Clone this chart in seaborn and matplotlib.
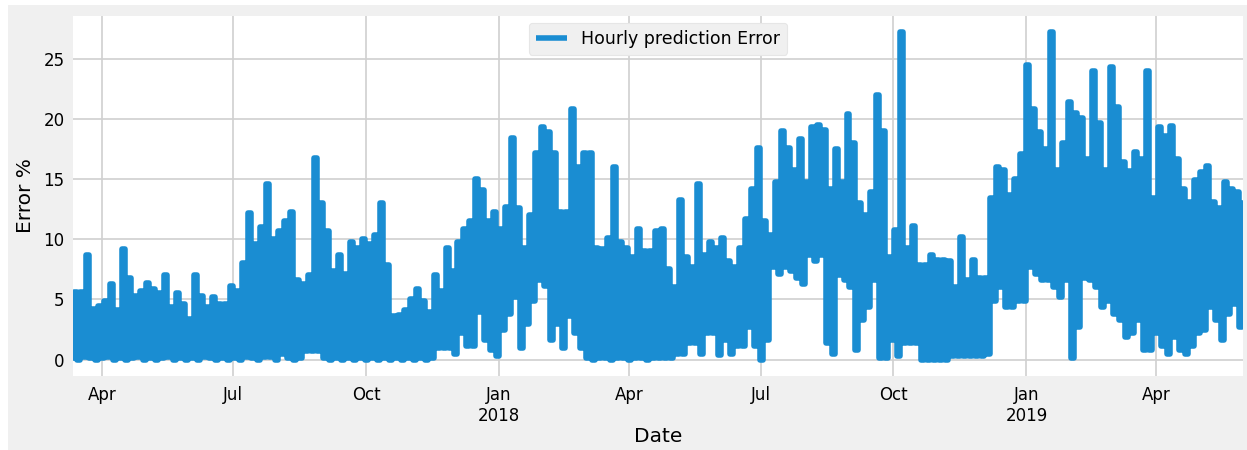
import pandas as pd
import matplotlib
matplotlib.use("Agg")
import matplotlib.pyplot as plt
import matplotlib.dates as mdates
from matplotlib.patches import Rectangle
from matplotlib.ticker import FuncFormatter
import seaborn as sns

# upper and lower envelope of the hourly error (%),
# evenly spaced from 2017-03-12 to 2019-05-30
start_date = "2017-03-12"
end_date = "2019-05-30 23:00"

high_err = [
    5.6, 5.6, 8.7, 4.2, 4.5, 4.9, 6.3, 4.1, 9.2, 6.8, 5.3, 5.7, 6.4, 5.9, 5.5, 7.0, 4.4,
    5.5, 4.6, 3.4, 7.0, 5.3, 4.4, 5.2, 4.6, 4.6, 6.1, 5.7, 8.0, 12.2, 9.6, 11.0, 14.6,
    10.0, 10.7, 11.5, 12.3, 6.6, 6.3, 7.0, 16.8, 13.0, 10.7, 7.4, 8.7, 7.1, 9.8, 9.3, 10.0,
    9.6, 10.4, 13.0, 7.9, 3.6, 3.7, 4.1, 5.0, 5.9, 4.9, 4.0, 7.0, 5.7, 9.3, 7.4, 9.8, 10.9,
    11.5, 15.0, 14.1, 11.5, 12.3, 10.9, 12.7, 18.4, 12.6, 9.3, 12.0, 17.2, 19.3, 18.9, 17.2,
    12.3, 12.3, 20.8, 16.0, 17.2, 17.2, 9.3, 9.2, 10.1, 16.0, 9.8, 9.3, 8.5, 10.9, 9.0, 9.0,
    10.7,
    10.9, 7.5, 6.0, 13.3, 8.5, 7.7, 14.6, 8.7, 9.8, 9.3, 10.1, 8.2, 7.7, 9.3, 11.7, 14.2,
    17.6, 11.5, 10.4, 14.8, 19.0, 17.6, 15.8, 18.3, 14.8, 19.3, 19.5, 19.1, 14.2, 17.5, 14.8,
    20.4, 18.0,
    13.0, 12.0, 13.9, 22.0, 19.0, 8.5, 10.8, 27.2, 9.3, 11.1, 7.9, 7.9, 8.7, 8.3, 8.3, 8.2,
    6.0, 10.2, 6.6, 8.3, 6.8, 6.8, 13.4, 16.0, 15.8, 13.7, 15.0, 17.1, 24.5, 20.8, 18.9, 17.5,
    27.2, 15.8, 18.0, 21.4, 20.5, 20.1, 16.7, 24.0, 19.7, 15.8, 24.3, 21.0, 16.4, 15.7, 17.3,
    16.7, 24.0, 13.4, 19.3, 18.6, 19.4, 16.7, 14.2, 13.1, 14.9, 15.6, 16.1, 13.1, 12.6, 14.8,
    14.2, 13.9, 13.0,
]

low_err = [
    0.1, 0.0, 0.2, 0.1, 0.0, 0.1, 0.2, 0.0, 0.1, 0.0, 0.1, 0.2, 0.0, 0.1, 0.0, 0.1, 0.2,
    0.0, 0.1, 0.0, 0.1, 0.0, 0.2, 0.1, 0.0, 0.1, 0.0, 0.1, 0.0, 0.2, 0.1, 0.0, 0.2,
    0.2, 0.0, 0.5, 0.1, 0.0, 0.1, 0.7, 0.7, 0.7, 0.1, 0.0, 0.1, 0.0, 0.1, 0.0, 0.1,
    0.0, 0.1, 0.0, 0.1, 0.0, 0.1, 0.0, 0.1, 0.0, 0.1, 0.0, 0.1, 1.0, 1.0, 1.0, 0.5, 2.2,
    1.1, 1.1, 4.0, 1.6, 0.8, 0.3, 2.5, 3.8, 5.2, 1.0, 3.0, 4.9, 6.6, 6.1, 1.6,
    3.0, 1.0, 3.6, 2.2, 1.0, 0.1, 0.0, 0.1, 0.1, 0.0, 0.1, 0.1, 0.0, 0.1, 0.1, 0.0,
    0.1,
    0.1, 0.1, 0.1, 0.5, 0.5, 1.4, 1.4, 0.5, 2.2, 2.2, 0.4, 1.6, 0.5, 1.1, 1.1, 2.7,
    1.1, 0.0, 1.6, 7.7, 7.1, 7.7, 7.4, 6.8, 6.3, 8.7, 8.2, 8.7, 1.4, 0.5, 7.0,
    6.6, 6.0,
    0.8, 3.3, 4.4, 6.6, 0.1, 0.1, 1.6, 0.3, 1.4, 1.4, 1.4, 0.0, 0.0, 0.0, 0.0, 0.0,
    0.3, 0.3, 0.3, 0.3, 0.3, 0.3, 0.5, 4.9, 6.0, 4.4, 4.4, 4.9, 4.9, 7.7, 7.1, 6.6,
    6.6, 6.0, 5.2, 6.6, 0.1, 2.7, 6.8, 6.6, 6.0, 4.4, 4.9, 3.8, 3.3, 1.9, 2.2,
    3.3, 0.8, 0.8, 2.2, 1.1, 0.5, 1.9, 0.8, 0.5, 1.1, 2.2, 2.5, 4.4, 3.3, 1.6,
    3.8, 4.6, 2.7,
]

# alternate low / high so the line sweeps the full band like the hourly series
values = []
for lo, hi in zip(low_err, high_err):
    values.append(lo)
    values.append(hi)
dates = pd.date_range(start_date, end_date, periods=len(values))
df = pd.DataFrame({"Date": dates, "Error": values})

plt.style.use("fivethirtyeight")
plt.rcParams["font.family"] = ["DejaVu Sans"]

fig = plt.figure(figsize=(12.47, 4.5), dpi=100, facecolor="white")
fig.patches.append(Rectangle((8 / 1247, 0), 1, 1 - 5 / 450, transform=fig.transFigure,
                             facecolor="#f0f0f0", edgecolor="none", zorder=-10))
ax = fig.add_axes([0.0585, 0.1644, 0.9383, 0.80])
ax.set_facecolor("white")

sns.lineplot(data=df, x="Date", y="Error", ax=ax, color="#1a8dd2", linewidth=4,
             label="Hourly prediction Error", estimator=None, drawstyle="steps-mid")

ax.set_xlim(dates[0], dates[-1])
ax.xaxis.set_major_locator(mdates.MonthLocator(bymonth=[1, 4, 7, 10]))


def fmt_date(x, pos):
    d = mdates.num2date(x)
    return d.strftime("%b\n%Y") if d.month == 1 else d.strftime("%b")


ax.xaxis.set_major_formatter(FuncFormatter(fmt_date))
ax.set_yticks([0, 5, 10, 15, 20, 25])
ax.tick_params(axis="both", labelsize=12, length=0)
ax.tick_params(axis="x", pad=7)
ax.tick_params(axis="y", pad=6)
ax.grid(True, color="#d0d0d0", linewidth=1.2)
for s in ax.spines.values():
    s.set_visible(False)

ax.set_xlabel("Date", fontsize=14.5, labelpad=2)
ax.set_ylabel("Error %", fontsize=14.5, labelpad=6)

leg = ax.legend(loc="upper center", fontsize=12.5, frameon=True, fancybox=True,
                facecolor="#f0f0f0", edgecolor="#e6e6e6", framealpha=1,
                borderaxespad=0.4, handlelength=1.8)
leg.get_frame().set_linewidth(0.8)

plt.savefig("out.png", dpi=100, facecolor=fig.get_facecolor())
